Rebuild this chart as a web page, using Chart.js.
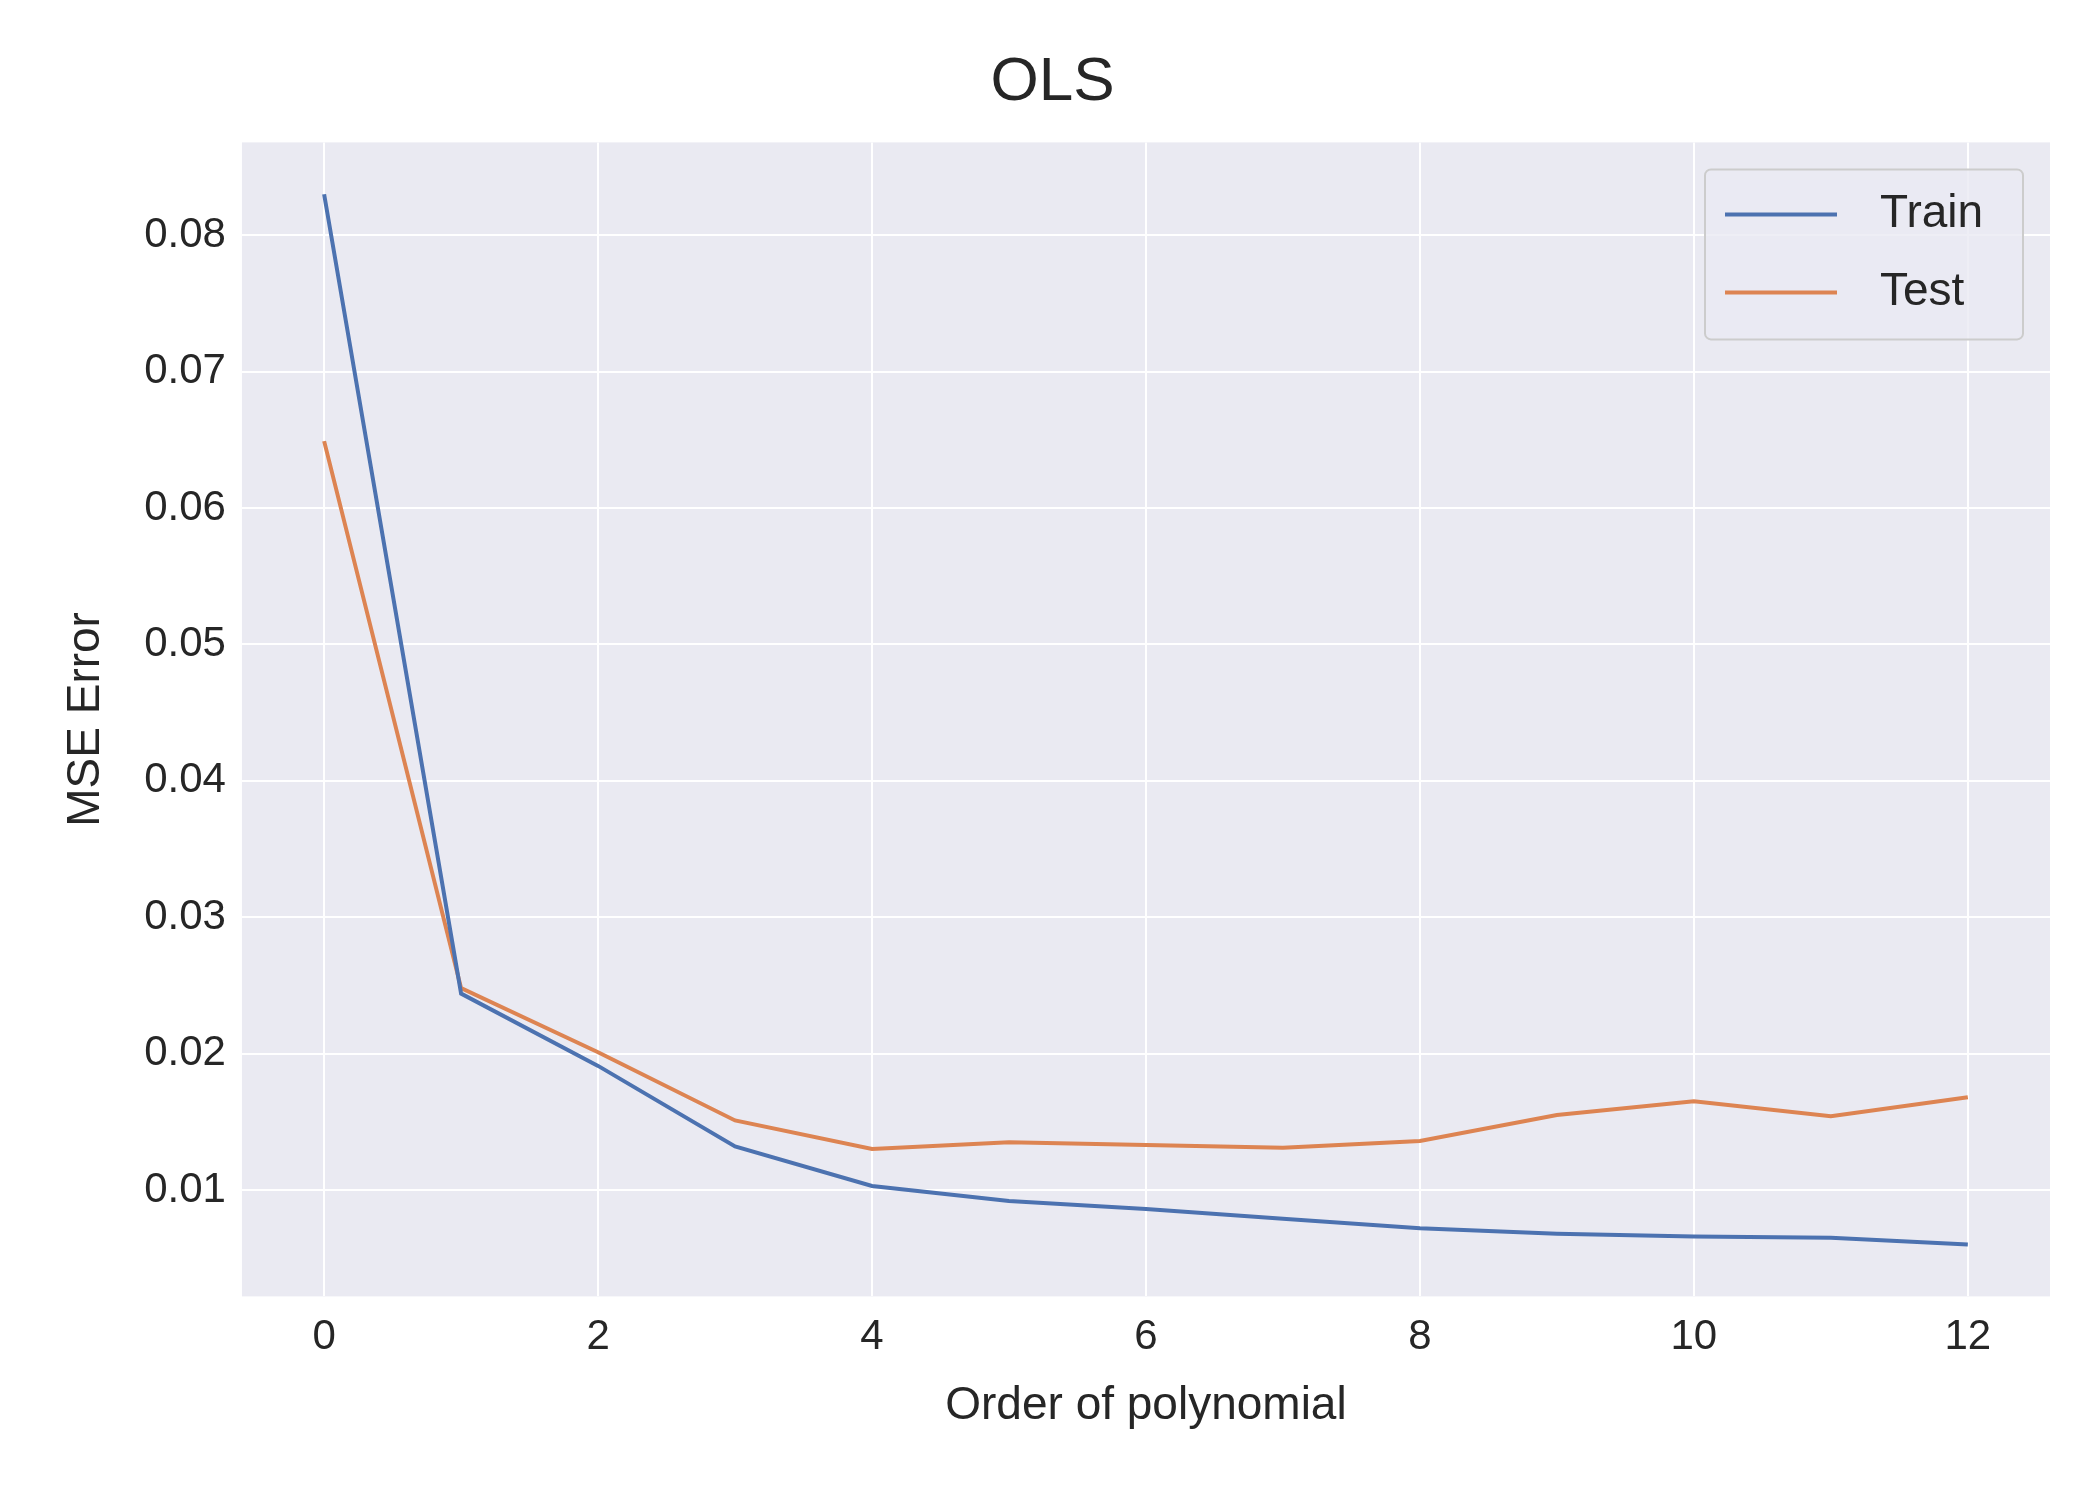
<!DOCTYPE html>
<html>
<head>
<meta charset="utf-8">
<script src="https://cdn.jsdelivr.net/npm/chart.js@4/dist/chart.umd.min.js"></script>
<style>
  html, body { margin: 0; padding: 0; background: #fff; }
  #wrap { width: 2100px; height: 1500px; }
</style>
</head>
<body>
<div id="wrap"><canvas id="c" width="2100" height="1500"></canvas></div>
<script>
const orders = [0, 1, 2, 3, 4, 5, 6, 7, 8, 9, 10, 11, 12];
const trainMse = [0.0830, 0.0244, 0.0191, 0.0132, 0.0103, 0.0092, 0.0086, 0.0079, 0.0072, 0.0068, 0.0066, 0.0065, 0.0060];
const testMse = [0.0649, 0.0248, 0.0201, 0.0151, 0.0130, 0.0135, 0.0133, 0.0131, 0.0136, 0.0155, 0.0165, 0.0154, 0.0168];
const yTicks = [0.01, 0.02, 0.03, 0.04, 0.05, 0.06, 0.07, 0.08];
const xTicks = [0, 2, 4, 6, 8, 10, 12];

const FONT = "'Liberation Sans', Arial, sans-serif";
const TXT = "#262626";

// grey plot background
const bgPlugin = {
  id: "bg",
  beforeDraw(chart) {
    const { ctx, chartArea: a } = chart;
    ctx.save();
    ctx.fillStyle = "#EAEAF2";
    ctx.fillRect(a.left, a.top, a.right - a.left, a.bottom - a.top);
    ctx.restore();
  }
};

// legend box inside the top-right of the plot
const legendPlugin = {
  id: "legendBox",
  afterDatasetsDraw(chart) {
    const { ctx, chartArea: a } = chart;
    const w = 318, h = 170;
    const x = a.right - 27 - w, y = a.top + 27;
    ctx.save();
    ctx.fillStyle = "rgba(234,234,242,0.8)";
    ctx.strokeStyle = "#CCCCCC";
    ctx.lineWidth = 2;
    ctx.beginPath();
    ctx.roundRect(x, y, w, h, 6);
    ctx.fill();
    ctx.stroke();
    ctx.font = "46px " + FONT;
    ctx.textBaseline = "middle";
    chart.data.datasets.forEach((ds, i) => {
      const cy = y + 45 + i * 78;
      ctx.strokeStyle = ds.borderColor;
      ctx.lineWidth = 4;
      ctx.beginPath();
      ctx.moveTo(x + 20, cy);
      ctx.lineTo(x + 132, cy);
      ctx.stroke();
      ctx.fillStyle = TXT;
      ctx.fillText(ds.label, x + 175, cy);
    });
    ctx.restore();
  }
};

new Chart(document.getElementById("c"), {
  type: "line",
  data: {
    datasets: [
      { label: "Train", data: orders.map((o, i) => ({ x: o, y: trainMse[i] })), borderColor: "#4C72B0", borderWidth: 4, pointRadius: 0, tension: 0 },
      { label: "Test", data: orders.map((o, i) => ({ x: o, y: testMse[i] })), borderColor: "#DD8452", borderWidth: 4, pointRadius: 0, tension: 0 }
    ]
  },
  options: {
    responsive: false,
    animation: false,
    layout: { padding: { left: 55, right: 50, top: 16, bottom: 62 } },
    plugins: {
      legend: { display: false },
      tooltip: { enabled: false },
      title: { display: true, text: "OLS", color: TXT, font: { family: FONT, size: 62, weight: "normal" }, padding: { top: 30, bottom: 22 } }
    },
    scales: {
      x: {
        type: "linear", min: -0.6, max: 12.6,
        afterBuildTicks: s => { s.ticks = xTicks.map(v => ({ value: v })); },
        grid: { color: "#FFFFFF", lineWidth: 2, drawTicks: false },
        border: { display: false },
        ticks: { color: TXT, font: { family: FONT, size: 42 }, padding: 16 },
        title: { display: true, text: "Order of polynomial", color: TXT, font: { family: FONT, size: 46 }, padding: { top: 0 } }
      },
      y: {
        min: 0.0022, max: 0.0868,
        afterBuildTicks: s => { s.ticks = yTicks.map(v => ({ value: v })); },
        grid: { color: "#FFFFFF", lineWidth: 2, drawTicks: false },
        border: { display: false },
        ticks: { color: TXT, font: { family: FONT, size: 42 }, padding: 16, callback: v => v.toFixed(2) },
        title: { display: true, text: "MSE Error", color: TXT, font: { family: FONT, size: 46 }, padding: { bottom: 14 } }
      }
    }
  },
  plugins: [bgPlugin, legendPlugin]
});
</script>
</body>
</html>
